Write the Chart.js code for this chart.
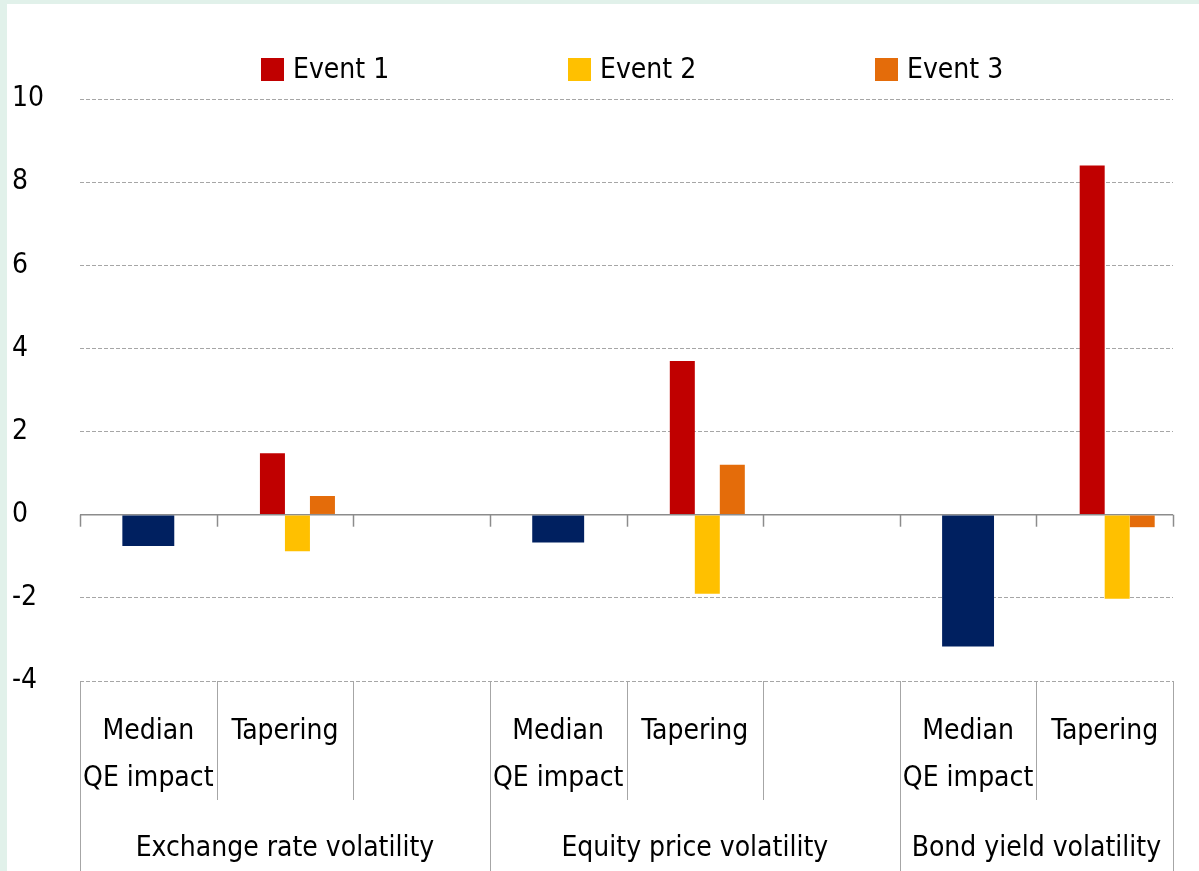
<!DOCTYPE html>
<html>
<head>
<meta charset="utf-8">
<script src="https://cdn.jsdelivr.net/npm/chart.js@4"></script>
<style>
  html, body { margin: 0; padding: 0; background: #e1f1ea; }
  #wrap { position: absolute; left: 0; top: 0; width: 1199px; height: 871px; }
</style>
</head>
<body>
<div id="wrap"><canvas id="chart" width="1199" height="871"></canvas></div>
<script>
const categories = [["Median", "QE impact"], "Tapering", "", ["Median", "QE impact"], "Tapering", "", ["Median", "QE impact"], "Tapering"];
const groupNames = ["Exchange rate volatility", "Equity price volatility", "Bond yield volatility"];
const groupSizes = [3, 3, 2];
const medianImpact = [-0.75, null, null, -0.67, null, null, -3.17, null];
const event1 = [null, 1.48, null, null, 3.7, null, null, 8.4];
const event2 = [null, -0.88, null, null, -1.9, null, null, -2.02];
const event3 = [null, 0.45, null, null, 1.2, null, null, -0.3];
const emptySlot = [null, null, null, null, null, null, null, null];
const yMin = -4, yMax = 10, yStep = 2;

const FONT = "'Liberation Sans Narrow', 'Arial Narrow', 'DejaVu Sans Condensed', sans-serif";
const FONT_SIZE = 28;

// mint frame + white panel behind everything
const panel = {
  id: "panel",
  beforeDraw(chart) {
    const c = chart.ctx;
    c.save();
    c.fillStyle = "#e1f1ea";
    c.fillRect(0, 0, chart.width, chart.height);
    c.fillStyle = "#ffffff";
    c.fillRect(7, 4, chart.width - 7, chart.height - 4);
    c.restore();
  }
};

// zero-line ticks, category separators, group labels, legend
const axisDecor = {
  id: "axisDecor",
  afterDraw(chart) {
    const c = chart.ctx;
    const area = chart.chartArea;
    const y0 = chart.scales.y.getPixelForValue(0);
    const step = (area.right - area.left) / categories.length;

    const groupEdges = [0];
    groupSizes.reduce((acc, n) => { groupEdges.push(acc + n); return acc + n; }, 0);

    c.save();
    c.strokeStyle = "#8c8c8c";
    c.lineWidth = 1.5;
    for (let i = 0; i <= categories.length; i++) {
      const px = Math.round(area.left + i * step) + 0.5;
      c.beginPath();
      c.moveTo(px, y0);
      c.lineTo(px, y0 + 12);
      c.stroke();
    }

    c.strokeStyle = "#a6a6a6";
    c.lineWidth = 1;
    for (let i = 0; i <= categories.length; i++) {
      const px = Math.round(area.left + i * step) + 0.5;
      const full = groupEdges.includes(i);
      c.beginPath();
      c.moveTo(px, area.bottom);
      c.lineTo(px, full ? chart.height : area.bottom + 119);
      c.stroke();
    }

    c.fillStyle = "#000";
    c.font = `${FONT_SIZE}px ${FONT}`;
    c.textAlign = "center";
    c.textBaseline = "middle";
    groupNames.forEach((name, k) => {
      const mid = area.left + (groupEdges[k] + groupEdges[k + 1]) / 2 * step;
      c.fillText(name, mid, area.bottom + 168);
    });

    c.textAlign = "left";
    const items = chart.data.datasets.filter(d => d.inLegend);
    items.forEach((d, k) => {
      const lx = area.left + 181 + k * 307;
      c.fillStyle = d.backgroundColor;
      c.fillRect(lx, area.top - 41, 23, 23);
      c.fillStyle = "#000";
      c.fillText(d.label, lx + 32, area.top - 28);
    });
    c.restore();
  }
};

const eventBar = { categoryPercentage: 0.732, barPercentage: 1.0, borderWidth: 0 };

new Chart(document.getElementById("chart"), {
  type: "bar",
  data: {
    labels: categories,
    datasets: [
      { label: "", data: emptySlot, backgroundColor: "#ffffff", ...eventBar },
      { label: "Event 1", data: event1, backgroundColor: "#c00000", inLegend: true, ...eventBar },
      { label: "Event 2", data: event2, backgroundColor: "#ffc000", inLegend: true, ...eventBar },
      { label: "Event 3", data: event3, backgroundColor: "#e46c0a", inLegend: true, ...eventBar },
      { label: "Median QE impact", data: medianImpact, backgroundColor: "#002060",
        grouped: false, categoryPercentage: 0.38, barPercentage: 1.0, borderWidth: 0 }
    ]
  },
  options: {
    responsive: false,
    animation: false,
    devicePixelRatio: 1,
    layout: { padding: { top: 99, left: 12, right: 26, bottom: 0 } },
    plugins: {
      legend: { display: false },
      tooltip: { enabled: false }
    },
    scales: {
      x: {
        type: "category",
        grid: { display: false, drawTicks: false },
        border: { display: false },
        ticks: {
          autoSkip: false,
          maxRotation: 0,
          minRotation: 0,
          padding: 28,
          color: "#000",
          font: { family: FONT, size: FONT_SIZE, lineHeight: 1.65 }
        },
        afterFit(scale) { scale.height = 190; }
      },
      y: {
        min: yMin,
        max: yMax,
        grid: {
          drawTicks: false,
          color: ctx => (ctx.tick && ctx.tick.value === 0 ? "#8c8c8c" : "#a6a6a6"),
          lineWidth: ctx => (ctx.tick && ctx.tick.value === 0 ? 1.5 : 1)
        },
        border: {
          display: false,
          dash: ctx => (ctx.tick && ctx.tick.value === 0 ? [] : [4, 2])
        },
        ticks: {
          stepSize: yStep,
          padding: 0,
          crossAlign: "far",
          color: "#000",
          font: { family: FONT, size: FONT_SIZE }
        },
        afterFit(scale) { scale.width = 68; }
      }
    }
  },
  plugins: [panel, axisDecor]
});
</script>
</body>
</html>
